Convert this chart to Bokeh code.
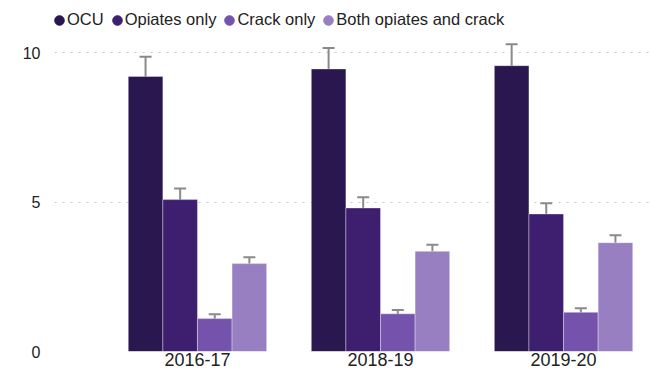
from bokeh.plotting import figure
from bokeh.models import Range1d, FixedTicker, Legend, LegendItem, Whisker, ColumnDataSource, TeeHead
from bokeh.embed import file_html
from bokeh.resources import INLINE

years = ["2016-17", "2018-19", "2019-20"]
series = ["OCU", "Opiates only", "Crack only", "Both opiates and crack"]
colors = ["#2a174f", "#3e1f6f", "#7552ab", "#977fc1"]

values = {
    "OCU": [9.2, 9.45, 9.56],
    "Opiates only": [5.08, 4.8, 4.6],
    "Crack only": [1.1, 1.26, 1.31],
    "Both opiates and crack": [2.94, 3.35, 3.64],
}
lower = {
    "OCU": [8.5, 8.76, 8.84],
    "Opiates only": [4.75, 4.41, 4.24],
    "Crack only": [0.97, 1.15, 1.18],
    "Both opiates and crack": [2.8, 3.15, 3.38],
}
upper = {
    "OCU": [9.86, 10.15, 10.28],
    "Opiates only": [5.45, 5.16, 4.96],
    "Crack only": [1.25, 1.39, 1.45],
    "Both opiates and crack": [3.15, 3.57, 3.89],
}
y_ticks = [0, 5, 10]

FONT = "Liberation Sans"
bar_w = 0.189
nan = float("nan")

p = figure(width=652, height=373, output_backend="svg", toolbar_location=None,
           x_range=Range1d(-0.781, 2.486), y_range=Range1d(0, 11.74),
           min_border_left=54, min_border_right=0, min_border_top=0, min_border_bottom=22)
p.outline_line_color = None

legend_items = []
for k, s in enumerate(series):
    off = (k - 1.5) * bar_w
    xs = [i + off for i in range(len(years))]
    src = ColumnDataSource(dict(x=xs, top=values[s], lo=lower[s], hi=upper[s]))
    p.vbar(x="x", top="top", width=bar_w, bottom=0, source=src,
           fill_color=colors[k], line_color="white", line_alpha=0.35, line_width=1)
    w = Whisker(source=src, base="x", lower="lo", upper="hi",
                line_color="#8a8a8a", line_width=2,
                upper_head=TeeHead(size=12, line_color="#8a8a8a", line_width=2),
                lower_head=TeeHead(size=12, line_color="#8a8a8a", line_width=2))
    p.add_layout(w)
    r = p.ellipse(x=[nan], y=[nan], width=10, height=10,
                  width_units="screen", height_units="screen",
                  fill_color=colors[k], line_color=colors[k])
    legend_items.append(LegendItem(label=s, renderers=[r]))

legend = Legend(items=legend_items, orientation="horizontal", location=(-1, 322),
                label_text_font=FONT, label_text_font_size="16.5px", label_text_color="#222222",
                glyph_width=12, glyph_height=12, label_standoff=2, spacing=7,
                padding=0, margin=0, background_fill_alpha=0, border_line_color=None)
p.add_layout(legend)

p.xaxis.ticker = FixedTicker(ticks=list(range(len(years))))
p.xaxis.major_label_overrides = {i: y for i, y in enumerate(years)}
p.yaxis.ticker = FixedTicker(ticks=y_ticks)
for ax in (p.xaxis, p.yaxis):
    ax.axis_line_color = None
    ax.major_tick_line_color = None
    ax.minor_tick_line_color = None
    ax.major_tick_out = 0
    ax.major_tick_in = 0
    ax.minor_tick_out = 0
    ax.major_label_text_font = FONT
    ax.major_label_text_color = "#222222"
p.xaxis.major_label_text_font_size = "18px"
p.yaxis.major_label_text_font_size = "16px"
p.xaxis.major_label_standoff = 1
p.yaxis.major_label_standoff = 14

p.xgrid.grid_line_color = None
p.ygrid.grid_line_color = "#c8c8c8"
p.ygrid.grid_line_dash = "2 6"
p.ygrid.grid_line_width = 1

open("out.html", "w").write(file_html(p, INLINE))
